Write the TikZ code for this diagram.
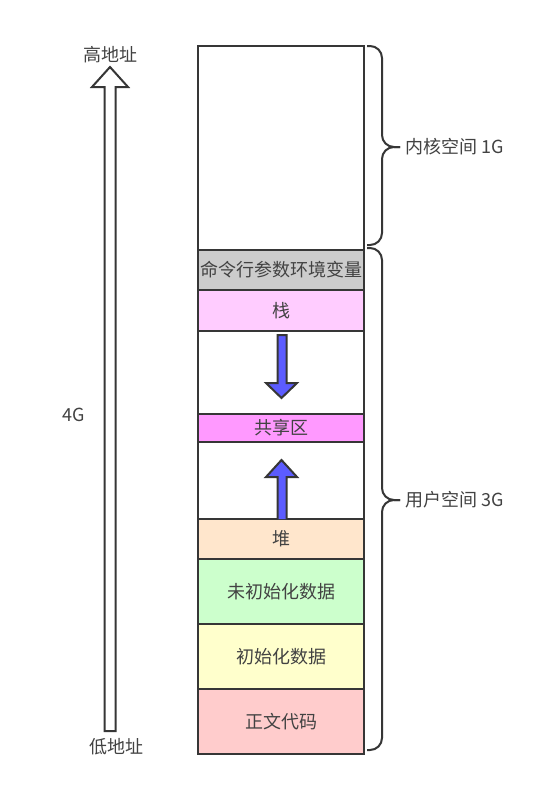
\documentclass[tikz,border=0pt]{standalone}
\usepackage{fontspec}
\setmainfont{Noto Sans CJK SC}
\usepackage{tikz}
\usetikzlibrary{positioning}
\definecolor{edgegrey}{HTML}{363636}
\definecolor{textgrey}{HTML}{424242}
\definecolor{cmdgrey}{HTML}{CCCCCC}
\definecolor{stackpink}{HTML}{FFCCFF}
\definecolor{sharedpink}{HTML}{FF99FF}
\definecolor{heaporange}{HTML}{FFE6CC}
\definecolor{bssgreen}{HTML}{CCFFCC}
\definecolor{datayellow}{HTML}{FFFFCC}
\definecolor{codered}{HTML}{FFCCCC}
\definecolor{arrowblue}{HTML}{5C5CFF}

\begin{document}
\begin{tikzpicture}[x=1pt, y=-1pt, font=\fontsize{18}{20}\selectfont, text=textgrey, node distance=0pt,
  seg/.style={rectangle, draw=edgegrey, line width=2.2pt, fill=white, minimum width=166pt,
              inner sep=0pt, outer sep=0pt},
  lab/.style={inner sep=0pt},
  brace/.style={draw=edgegrey, line width=2pt, rounded corners=12pt},
  blk/.style={draw=edgegrey, line width=2pt, line join=miter}]
\fill[white] (0,0) rectangle (560,788);
\useasboundingbox (0,0) rectangle (560,788);

% memory column
\node[seg, minimum height=204pt] (kern) at (281,148) {};
\node[seg, minimum height=40pt, fill=cmdgrey, below=of kern] (cmd) {命令行参数环境变量};
\node[seg, minimum height=41pt, fill=stackpink, below=of cmd] (stack) {栈};
\node[seg, minimum height=83pt, below=of stack] (gapa) {};
\node[seg, minimum height=28pt, fill=sharedpink, below=of gapa] (shared) {共享区};
\node[seg, minimum height=77pt, below=of shared] (gapb) {};
\node[seg, minimum height=40pt, fill=heaporange, below=of gapb] (heap) {堆};
\node[seg, minimum height=65pt, fill=bssgreen, below=of heap] (bss) {未初始化数据};
\node[seg, minimum height=65pt, fill=datayellow, below=of bss] (data) {初始化数据};
\node[seg, minimum height=65pt, fill=codered, below=of data] (code) {正文代码};

% growth of stack and heap
\draw[blk, fill=arrowblue] (277.5,335) -- (286.5,335) -- (286.5,383) -- (297,383) -- (281.5,398)
  -- (266,383) -- (277.5,383) -- cycle;
\draw[blk, fill=arrowblue] (277.5,519) -- (277.5,477) -- (266,477) -- (281.5,460) -- (297,477)
  -- (286.5,477) -- (286.5,519);

% address arrow
\draw[blk, fill=white] (104.5,731) -- (104.5,87) -- (92,87) -- (110,67) -- (128,87) -- (115.5,87)
  -- (115.5,731) -- cycle;
\node[lab] (high) at (110,55) {高地址};
\node[lab] (low) at (116,747) {低地址};
\node[lab] (total) at (74,415) {4G};

% braces
\draw[brace] (367,46) -- (382,46) -- (382,147) -- (400,147);
\draw[brace] (400,147) -- (382,147) -- (382,245) -- (367,245);
\draw[brace] (367,248) -- (382,248) -- (382,500) -- (400,500);
\draw[brace] (400,500) -- (382,500) -- (382,750) -- (367,750);
\node[lab, anchor=west] (kernlab) at (405,147) {内核空间 1G};
\node[lab, anchor=west] (userlab) at (405,500) {用户空间 3G};
\end{tikzpicture}
\end{document}
